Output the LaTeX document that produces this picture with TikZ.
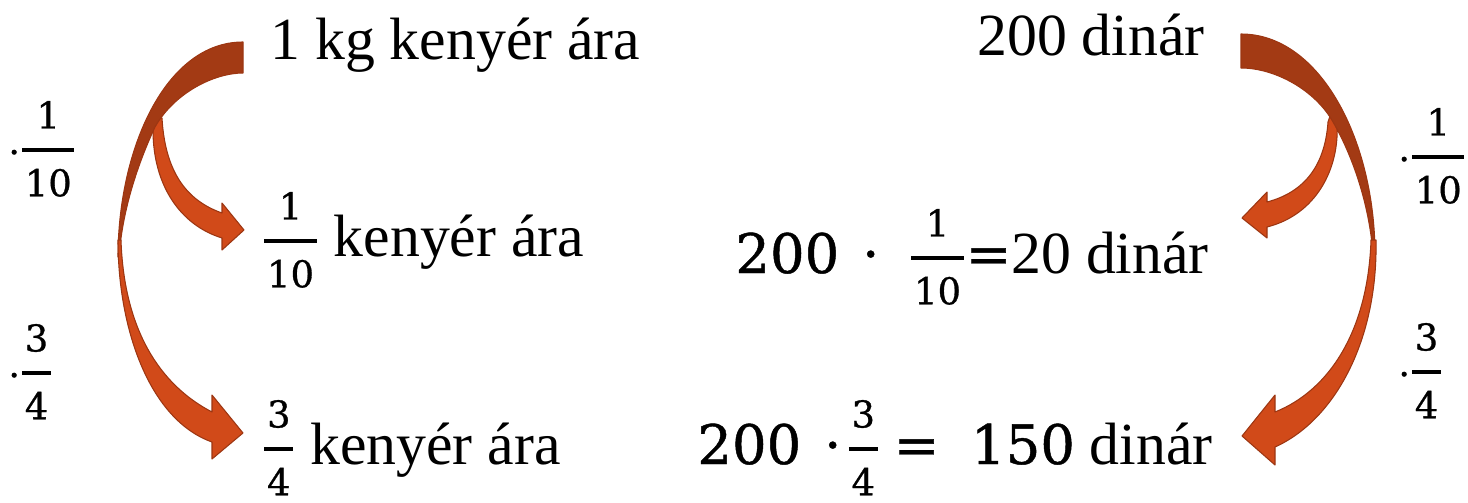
\RequirePackage{fix-cm}
\documentclass[tikz,border=0pt]{standalone}
\usepackage{amsmath}
\usepackage{fontspec}
\setmainfont{Liberation Serif}
\newfontfamily\cambria{DejaVu Serif}[FakeBold=0.8]
\usepackage{tikz}
\definecolor{sotet}{HTML}{A33A14}
\definecolor{vilagos}{HTML}{D14A19}
\definecolor{keret}{HTML}{9C3612}
\newcommand{\tortbetu}{\cambria\fontsize{21}{21}\selectfont}
\newcommand{\nagybetu}{\cambria\fontsize{31}{36}\selectfont}
\newcommand{\tort}[2]{$\genfrac{}{}{2.2pt}{}{\text{\tortbetu\rule[-9pt]{0pt}{9pt}#1}}{\text{\tortbetu\rule{0pt}{23pt}\kern1.5pt#2\kern1.5pt}}$}
\tikzset{
  szoveg/.style = {anchor=base west, inner sep=0, font=\fontsize{34}{40}\selectfont},
  hatso/.style  = {fill=sotet, draw=keret, line width=0.6pt, line join=round},
  elso/.style   = {fill=vilagos, draw=keret, line width=0.6pt, line join=round}
}

\begin{document}
\begin{tikzpicture}[x=0.2mm, y=-0.2mm]
  \useasboundingbox (0,0) rectangle (1468,503);
  % bal oldali nyilak
  \filldraw[elso] (150,120) -- (153,130) .. controls (153,185) and (180,225) .. (222,238)
    -- (222,250) -- (244,230) -- (222,203) -- (222,213)
    .. controls (185,200) and (165,170) .. (162,118) -- cycle;
  \filldraw[hatso] (243,42) -- (243,73) .. controls (215,73) and (175,92) .. (155,127)
    .. controls (135,170) and (122,215) .. (119,257) -- (118,257)
    .. controls (118,150) and (165,42) .. (243,42) -- cycle;
  \filldraw[elso] (118,240) .. controls (118,330) and (150,420) .. (212,442)
    -- (212,459) -- (243,433) -- (212,395) -- (212,412)
    .. controls (160,385) and (124,330) .. (121,240) -- cycle;
  % jobb oldali nyilak
  \filldraw[elso] (1330,116) -- (1337,122) .. controls (1340,170) and (1315,215) .. (1267,227)
    -- (1267,238) -- (1242,218) -- (1267,192) -- (1267,202)
    .. controls (1305,192) and (1325,165) .. (1328,122) -- cycle;
  \filldraw[hatso] (1241,34) -- (1241,68) .. controls (1275,68) and (1315,90) .. (1333,122)
    .. controls (1355,160) and (1370,210) .. (1373,255) -- (1375,255)
    .. controls (1375,140) and (1320,34) .. (1241,34) -- cycle;
  \filldraw[elso] (1376,240) .. controls (1378,340) and (1335,420) .. (1275,447)
    -- (1275,465) -- (1242,436) -- (1275,395) -- (1275,412)
    .. controls (1330,390) and (1368,330) .. (1371,240) -- cycle;
  % szovegek
  \node[szoveg] (kg)  at (270,60)  {1 kg kenyér ára};
  \node[szoveg] (din) at (977,56)  {200 dinár};
  \node[szoveg] (tized)  at (262,256) {\tort{1}{10} kenyér ára};
  \node[szoveg] (negyed) at (262,464) {\tort{3}{4} kenyér ára};
  \node[szoveg] (tizedar)  at (735,273) {{\nagybetu 200\hspace{13pt}·\hspace{17pt}}\tort{1}{10}{\nagybetu =}20 dinár};
  \node[szoveg] (negyedar) at (697,464) {{\nagybetu 200\hspace{13pt}·\hspace{3pt}}\tort{3}{4}{\nagybetu\hspace{8pt}=\hspace{18pt}150} dinár};
  % szorzok
  \node[szoveg] (bal1) at (8,165)    {{\tortbetu ·}\tort{1}{10}};
  \node[szoveg] (bal2) at (8,388)    {{\tortbetu ·}\tort{3}{4}};
  \node[szoveg] (jobb1) at (1398,172) {{\tortbetu ·}\tort{1}{10}};
  \node[szoveg] (jobb2) at (1398,387) {{\tortbetu ·}\tort{3}{4}};
\end{tikzpicture}
\end{document}
